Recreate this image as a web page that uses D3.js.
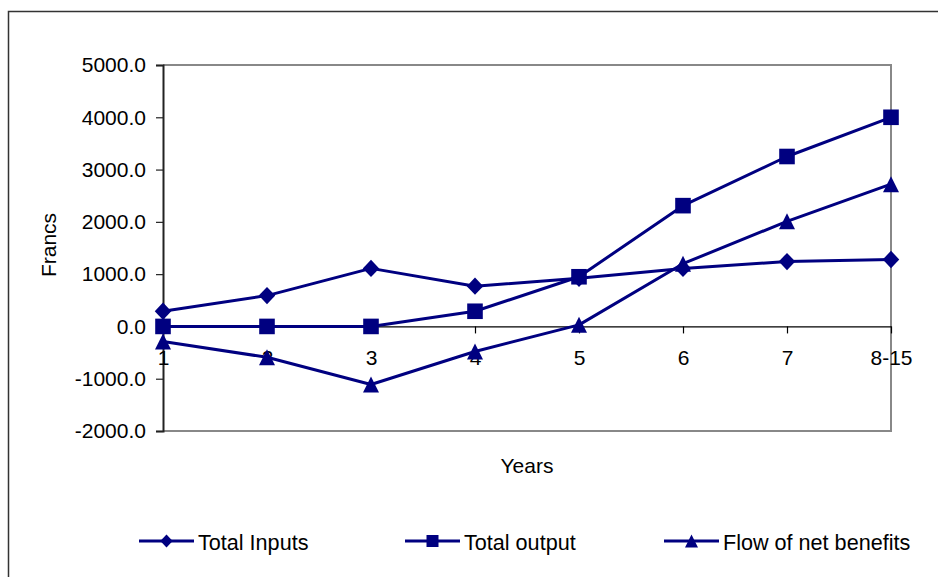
<!DOCTYPE html>
<html>
<head>
<meta charset="utf-8">
<script src="https://cdn.jsdelivr.net/npm/d3@7"></script>
<style>
  html, body { margin: 0; padding: 0; background: #fff; }
  svg { display: block; font-family: "Liberation Sans", Arial, sans-serif; }
</style>
</head>
<body>
<svg id="chart" width="938" height="577"></svg>
<script>
// Years on the horizontal axis
const years = ["1", "2", "3", "4", "5", "6", "7", "8-15"];
// Francs per year for each series
const totalInputs = [290, 590, 1110, 770, 920, 1110, 1240, 1280];
const totalOutput = [0, 0, 0, 290, 950, 2310, 3250, 4000];
const netBenefits = [-290, -590, -1110, -480, 30, 1200, 2010, 2720];
const yTicks = [-2000, -1000, 0, 1000, 2000, 3000, 4000, 5000];
const seriesNames = ["Total Inputs", "Total output", "Flow of net benefits"];

const navy = "#000080";
const svg = d3.select("#chart");

// Outer frame
svg.append("rect")
  .attr("x", 8.5).attr("y", 11.5)
  .attr("width", 935).attr("height", 600)
  .attr("fill", "none").attr("stroke", "#333").attr("stroke-width", 1.5);

const plot = { left: 163, top: 65, right: 891, bottom: 431 };

const x = d3.scalePoint().domain(years).range([plot.left, plot.right]).padding(0);
const y = d3.scaleLinear().domain([-2000, 5000]).range([plot.bottom, plot.top]);

// Plot area border (top, right, bottom)
svg.append("path")
  .attr("d", `M${plot.left},${plot.top}H${plot.right}V${plot.bottom}H${plot.left}`)
  .attr("fill", "none").attr("stroke", "#888").attr("stroke-width", 2);

// Value axis, labels with a plain hyphen for negatives
const fmt = d => d3.format(".1f")(d).replace("\u2212", "-");
const yAxis = svg.append("g")
  .attr("transform", `translate(${plot.left},0)`)
  .call(d3.axisLeft(y).tickValues(yTicks).tickSize(7).tickPadding(10).tickFormat(fmt));
yAxis.select(".domain").attr("stroke", "#222").attr("stroke-width", 2);
yAxis.selectAll(".tick line").attr("stroke", "#222").attr("stroke-width", 1.2);
yAxis.selectAll(".tick text")
  .attr("font-size", "21px").attr("fill", "#000")
  .attr("font-family", "'Liberation Sans', Arial, sans-serif");

// Category axis along zero
const xAxis = svg.append("g")
  .attr("transform", `translate(0,${y(0)})`)
  .call(d3.axisBottom(x).tickSize(7).tickSizeOuter(0).tickPadding(17));
xAxis.select(".domain").attr("stroke", "#000").attr("stroke-width", 1.2);
xAxis.selectAll(".tick line").attr("stroke", "#000").attr("stroke-width", 1.2);
xAxis.selectAll(".tick text")
  .attr("font-size", "21px").attr("fill", "#000")
  .attr("font-family", "'Liberation Sans', Arial, sans-serif");

// Axis titles
svg.append("text")
  .attr("x", 527).attr("y", 473)
  .attr("text-anchor", "middle")
  .attr("font-size", "21px")
  .text("Years");
svg.append("text")
  .attr("transform", "translate(56,245) rotate(-90)")
  .attr("text-anchor", "middle")
  .attr("font-size", "21px")
  .text("Francs");

// Marker shapes
const markerPath = {
  diamond: s => `M0,${-s}L${s * 0.95},0L0,${s}L${-s * 0.95},0Z`,
  square: s => `M${-s},${-s}H${s}V${s}H${-s}Z`,
  triangle: s => `M0,${-s}L${s},${s}L${-s},${s}Z`
};

const series = [
  { name: seriesNames[0], values: totalInputs, shape: "diamond", size: 8.7 },
  { name: seriesNames[1], values: totalOutput, shape: "square", size: 7.8 },
  { name: seriesNames[2], values: netBenefits, shape: "triangle", size: 8 }
];

const line = d3.line().x((d, i) => x(years[i])).y(d => y(d));

series.forEach(s => {
  const g = svg.append("g");
  g.append("path")
    .attr("d", line(s.values))
    .attr("fill", "none").attr("stroke", navy).attr("stroke-width", 3)
    .attr("stroke-linejoin", "round");
  g.selectAll("path.m")
    .data(s.values)
    .join("path")
    .attr("class", "m")
    .attr("transform", (d, i) => `translate(${x(years[i])},${y(d)})`)
    .attr("d", markerPath[s.shape](s.size))
    .attr("fill", navy);
});

// Legend
const legendItems = [
  { x: 139, shape: "diamond", size: 6.5 },
  { x: 405, shape: "square", size: 6 },
  { x: 664, shape: "triangle", size: 6.5 }
];
const ly = 541;
legendItems.forEach((it, i) => {
  const g = svg.append("g").attr("transform", `translate(${it.x},${ly})`);
  g.append("line").attr("x1", 0).attr("x2", 55).attr("y1", 0).attr("y2", 0)
    .attr("stroke", navy).attr("stroke-width", 3);
  g.append("path").attr("transform", "translate(27.5,0)")
    .attr("d", markerPath[it.shape](it.size)).attr("fill", navy);
  g.append("text").attr("x", 59).attr("y", 9)
    .attr("font-size", "21.6px").attr("fill", "#000")
    .text(series[i].name);
});
</script>
</body>
</html>
